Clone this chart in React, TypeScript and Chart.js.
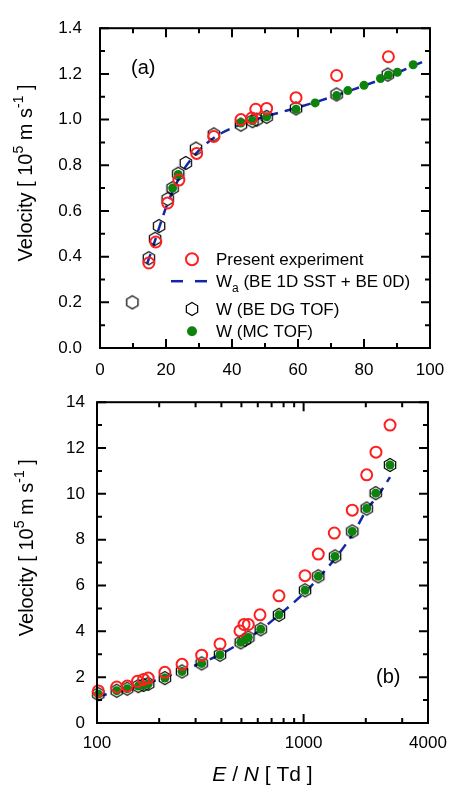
import React, { useEffect, useRef } from 'react';
import { Chart, registerables } from 'chart.js';

Chart.register(...registerables);

const FONT = "'Liberation Sans', Arial, Helvetica, sans-serif";
const RED = '#ff1f1f';
const GREEN = '#0d820d';
const BLUE = '#1226a8';

// ---------- Panel (a) ----------
const aExpX = [14.8, 16.9, 20.5, 23.9, 29.3, 34.5, 42.7, 46.0, 47.2, 50.5, 59.4, 71.7, 87.4];
const aExpY = [0.372, 0.464, 0.635, 0.735, 0.852, 0.926, 1.0, 1.007, 1.045, 1.049, 1.096, 1.193, 1.275];
const aDgX = [9.8, 14.8, 16.7, 17.9, 20.5, 22.0, 23.7, 26.0, 29.1, 34.5, 42.7, 46.2, 47.5, 50.5, 59.4, 71.7, 87.2];
const aDgY = [0.2, 0.393, 0.478, 0.534, 0.652, 0.7, 0.763, 0.81, 0.873, 0.935, 0.978, 0.993, 1.0, 1.012, 1.049, 1.11, 1.197];
const aMcX = [22.0, 23.7, 42.7, 46.2, 50.5, 59.4, 65.2, 71.7, 75.1, 80.0, 85.0, 87.4, 90.1, 94.9];
const aMcY = [0.7, 0.76, 0.985, 0.995, 1.012, 1.045, 1.073, 1.105, 1.127, 1.15, 1.18, 1.195, 1.207, 1.24];
const aWaX = [14.3, 16, 18, 20, 22, 24, 26, 30, 35, 40, 45, 50, 55, 60, 65, 70, 75, 80, 85, 90, 95, 97.8];
const aWaY = [0.37, 0.44, 0.53, 0.615, 0.685, 0.745, 0.795, 0.865, 0.925, 0.963, 0.99, 1.013, 1.033, 1.053, 1.075, 1.098, 1.123, 1.148, 1.175, 1.205, 1.235, 1.253];

const aXTicks = [0, 20, 40, 60, 80, 100];
const aXLabels = ['0', '20', '40', '60', '80', '100'];
const aXMinor = [10, 30, 50, 70, 90];
const aYTicks = [0, 0.2, 0.4, 0.6, 0.8, 1.0, 1.2, 1.4];
const aYLabels = ['0.0', '0.2', '0.4', '0.6', '0.8', '1.0', '1.2', '1.4'];
const aYMinor = [0.1, 0.3, 0.5, 0.7, 0.9, 1.1, 1.3];

// ---------- Panel (b) ----------
const bExpX = [101.5, 124.6, 140, 157, 168, 177, 213, 258, 321, 394, 492, 515, 540, 615, 760, 1016, 1178, 1408, 1720, 2020, 2240, 2620];
const bExpY = [1.40, 1.57, 1.61, 1.82, 1.90, 1.96, 2.21, 2.56, 2.96, 3.45, 4.02, 4.30, 4.30, 4.72, 5.55, 6.43, 7.37, 8.29, 9.29, 10.83, 11.82, 13.0];
const bDgX = [101.5, 124.6, 140, 158.5, 168, 177, 213, 258, 321, 394, 496, 520, 540, 620, 760, 1016, 1178, 1420, 1720, 2020, 2234, 2620];
const bDgY = [1.26, 1.41, 1.50, 1.61, 1.66, 1.71, 1.96, 2.25, 2.60, 2.98, 3.52, 3.63, 3.73, 4.09, 4.72, 5.79, 6.40, 7.27, 8.36, 9.36, 10.03, 11.26];
const bMcX = [101.5, 124.6, 140, 158.5, 168, 177, 213, 258, 321, 394, 496, 520, 540, 620, 760, 1016, 1178, 1420, 1720, 2020, 2234, 2620];
const bMcY = [1.26, 1.41, 1.50, 1.61, 1.66, 1.71, 1.96, 2.25, 2.60, 2.98, 3.52, 3.63, 3.73, 4.09, 4.72, 5.79, 6.40, 7.27, 8.36, 9.36, 10.03, 11.26];
const bWaX = [100, 150, 200, 300, 400, 500, 600, 800, 1000, 1200, 1500, 1800, 2000, 2300, 2620];
const bWaY = [1.15, 1.55, 1.92, 2.52, 3.02, 3.52, 3.98, 4.88, 5.65, 6.40, 7.45, 8.50, 9.25, 9.95, 10.73];

const bXTicks = [100, 1000, 4000];
const bXLabels = ['100', '1000', '4000'];
const bXMinor = [200, 300, 400, 500, 600, 700, 800, 900, 2000, 3000];
const bYTicks = [0, 2, 4, 6, 8, 10, 12, 14];
const bYLabels = ['0', '2', '4', '6', '8', '10', '12', '14'];
const bYMinor = [1, 3, 5, 7, 9, 11, 13];

const zip = (xs: number[], ys: number[]) => xs.map((x, i) => ({ x, y: ys[i] }));

function makeHex(R: number): HTMLCanvasElement {
  const size = 16;
  const c = document.createElement('canvas');
  c.width = size;
  c.height = size;
  const ctx = c.getContext('2d')!;
  ctx.translate(size / 2, size / 2);
  ctx.beginPath();
  for (let k = 0; k < 6; k++) {
    const a = -Math.PI / 2 + (k * Math.PI) / 3;
    const px = R * Math.cos(a);
    const py = R * Math.sin(a);
    if (k === 0) ctx.moveTo(px, py);
    else ctx.lineTo(px, py);
  }
  ctx.closePath();
  ctx.strokeStyle = '#000';
  ctx.lineWidth = 1.25;
  ctx.stroke();
  return c;
}

type Seg = { t: string; size: number; italic?: boolean; dy?: number };

function drawSegs(ctx: CanvasRenderingContext2D, segs: Seg[], x: number, y: number, align: 'left' | 'center') {
  const fontOf = (s: Seg) => `${s.italic ? 'italic ' : ''}${s.size}px ${FONT}`;
  const widths = segs.map((s) => {
    ctx.font = fontOf(s);
    return ctx.measureText(s.t).width;
  });
  const total = widths.reduce((a, b) => a + b, 0);
  let cur = align === 'center' ? x - total / 2 : x;
  ctx.textAlign = 'left';
  ctx.textBaseline = 'alphabetic';
  segs.forEach((s, i) => {
    ctx.font = fontOf(s);
    ctx.fillText(s.t, cur, y + (s.dy || 0));
    cur += widths[i];
  });
}

function decor(id: string, xMajor: number[], xMinor: number[], yMajor: number[], yMinor: number[], extra: (ctx: CanvasRenderingContext2D, a: any) => void) {
  return {
    id,
    afterDraw(chart: any) {
      const { ctx, chartArea: a, scales } = chart;
      const xs = scales.x;
      const ys = scales.y;
      ctx.save();
      ctx.strokeStyle = '#000';
      ctx.lineWidth = 2;
      ctx.beginPath();
      const vt = (vals: number[], L: number) =>
        vals.forEach((v) => {
          const p = xs.getPixelForValue(v);
          ctx.moveTo(p, a.bottom);
          ctx.lineTo(p, a.bottom - L);
          ctx.moveTo(p, a.top);
          ctx.lineTo(p, a.top + L);
        });
      const ht = (vals: number[], L: number) =>
        vals.forEach((v) => {
          const p = ys.getPixelForValue(v);
          ctx.moveTo(a.left, p);
          ctx.lineTo(a.left + L, p);
          ctx.moveTo(a.right, p);
          ctx.lineTo(a.right - L, p);
        });
      vt(xMajor, 9);
      vt(xMinor, 5);
      ht(yMajor, 9);
      ht(yMinor, 5);
      ctx.stroke();
      ctx.strokeRect(a.left, a.top, a.right - a.left, a.bottom - a.top);
      ctx.fillStyle = '#000';
      extra(ctx, a);
      ctx.restore();
    },
  };
}

const velTitle: Seg[] = [
  { t: 'Velocity [ 10', size: 20 },
  { t: '5', size: 14, dy: -9 },
  { t: ' m s', size: 20 },
  { t: '-1', size: 14, dy: -9 },
  { t: ' ]', size: 20 },
];

function drawYTitle(ctx: CanvasRenderingContext2D, bx: number, cy: number) {
  ctx.save();
  ctx.translate(bx, cy);
  ctx.rotate(-Math.PI / 2);
  ctx.fillStyle = '#000';
  drawSegs(ctx, velTitle, 0, 0, 'center');
  ctx.restore();
}

const tickFont = { family: FONT, size: 17 };

function makeScales(opts: {
  xType: string; xMin: number; xMax: number; xTicks: number[]; xLabels: string[];
  yMin: number; yMax: number; yTicks: number[]; yLabels: string[];
  yWidth: number; xHeight: number; yPad: number; xPad: number;
}) {
  return {
    x: {
      type: opts.xType,
      min: opts.xMin,
      max: opts.xMax,
      afterBuildTicks: (s: any) => { s.ticks = opts.xTicks.map((v) => ({ value: v })); },
      afterFit: (s: any) => { s.height = opts.xHeight; },
      grid: { display: false, drawTicks: false },
      border: { display: false },
      ticks: {
        font: tickFont, color: '#000', padding: opts.xPad, maxRotation: 0, minRotation: 0, autoSkip: false,
        callback: (_v: any, i: number) => opts.xLabels[i],
      },
    },
    y: {
      type: 'linear',
      min: opts.yMin,
      max: opts.yMax,
      afterBuildTicks: (s: any) => { s.ticks = opts.yTicks.map((v) => ({ value: v })); },
      afterFit: (s: any) => { s.width = opts.yWidth; },
      grid: { display: false, drawTicks: false },
      border: { display: false },
      ticks: {
        font: tickFont, color: '#000', padding: opts.yPad, autoSkip: false,
        callback: (_v: any, i: number) => opts.yLabels[i],
      },
    },
  };
}

function datasets(hex: HTMLCanvasElement, exp: any[], mc: any[], dg: any[], wa: any[]) {
  return [
    { label: 'Present experiment', data: exp, pointStyle: 'circle', pointRadius: 5.5, borderWidth: 2, borderColor: RED, backgroundColor: 'rgba(0,0,0,0)', order: 0, clip: false },
    { label: 'W (MC TOF)', data: mc, pointStyle: 'circle', pointRadius: 4.5, borderWidth: 0, borderColor: GREEN, backgroundColor: GREEN, order: 1, clip: false },
    { label: 'W (BE DG TOF)', data: dg, pointStyle: hex, pointRadius: 6, order: 2, clip: false },
    { label: 'Wa (BE 1D SST + BE 0D)', data: wa, showLine: true, pointRadius: 0, borderColor: BLUE, backgroundColor: BLUE, borderWidth: 2.5, borderDash: [10, 7], cubicInterpolationMode: 'monotone', fill: false, order: 3 },
  ];
}

function drawLegend(ctx: CanvasRenderingContext2D, a: any, hex: HTMLCanvasElement) {
  const sx = a.left + 92;
  const tx = a.left + 116;
  const rows = [a.top + 231, a.top + 253, a.top + 280.5, a.top + 303];
  ctx.beginPath();
  ctx.arc(sx, rows[0], 6, 0, Math.PI * 2);
  ctx.strokeStyle = RED;
  ctx.lineWidth = 2;
  ctx.stroke();
  ctx.fillStyle = '#000';
  drawSegs(ctx, [{ t: 'Present experiment', size: 17 }], tx, rows[0] + 6, 'left');
  ctx.save();
  ctx.beginPath();
  ctx.setLineDash([12, 12]);
  ctx.strokeStyle = BLUE;
  ctx.lineWidth = 2.5;
  ctx.moveTo(sx - 21, rows[1]);
  ctx.lineTo(sx + 16, rows[1]);
  ctx.stroke();
  ctx.restore();
  ctx.fillStyle = '#000';
  drawSegs(ctx, [
    { t: 'W', size: 17 },
    { t: 'a', size: 12, dy: 5 },
    { t: ' (BE 1D SST + BE 0D)', size: 17 },
  ], tx, rows[1] + 6, 'left');
  ctx.drawImage(hex, Math.round(sx - hex.width / 2), Math.round(rows[2] - hex.height / 2));
  drawSegs(ctx, [{ t: 'W (BE DG TOF)', size: 17 }], tx, rows[2] + 6, 'left');
  ctx.beginPath();
  ctx.arc(sx, rows[3], 5, 0, Math.PI * 2);
  ctx.fillStyle = GREEN;
  ctx.fill();
  ctx.fillStyle = '#000';
  drawSegs(ctx, [{ t: 'W (MC TOF)', size: 17 }], tx, rows[3] + 6, 'left');
}

export default function App() {
  const refA = useRef<HTMLCanvasElement>(null);
  const refB = useRef<HTMLCanvasElement>(null);

  useEffect(() => {
    const hex = makeHex(6.5);
    const cfgA: any = {
      type: 'scatter',
      data: { datasets: datasets(hex, zip(aExpX, aExpY), zip(aMcX, aMcY), zip(aDgX, aDgY), zip(aWaX, aWaY)) },
      options: {
        responsive: false,
        animation: false,
        devicePixelRatio: 1,
        events: [],
        layout: { padding: { top: 17, right: 27, left: 0, bottom: 0 } },
        plugins: { legend: { display: false }, tooltip: { enabled: false } },
        scales: makeScales({
          xType: 'linear', xMin: 0, xMax: 100, xTicks: aXTicks, xLabels: aXLabels,
          yMin: 0, yMax: 1.4, yTicks: aYTicks, yLabels: aYLabels,
          yWidth: 100, xHeight: 32, yPad: 18, xPad: 12,
        }),
      },
      plugins: [
        decor('decorA', aXTicks, aXMinor, aYTicks, aYMinor, (ctx, a) => {
          drawSegs(ctx, [{ t: '(a)', size: 20 }], a.left + 31, a.top + 45.5, 'left');
          drawYTitle(ctx, 32.3, a.top + 144.7);
          drawLegend(ctx, a, hex);
        }),
      ],
    };
    const cfgB: any = {
      type: 'scatter',
      data: { datasets: datasets(hex, zip(bExpX, bExpY), zip(bMcX, bMcY), zip(bDgX, bDgY), zip(bWaX, bWaY)) },
      options: {
        responsive: false,
        animation: false,
        devicePixelRatio: 1,
        events: [],
        layout: { padding: { top: 13, right: 29, left: 0, bottom: 0 } },
        plugins: { legend: { display: false }, tooltip: { enabled: false } },
        scales: makeScales({
          xType: 'logarithmic', xMin: 100, xMax: 4000, xTicks: bXTicks, xLabels: bXLabels,
          yMin: 0, yMax: 14, yTicks: bYTicks, yLabels: bYLabels,
          yWidth: 97, xHeight: 73, yPad: 12, xPad: 10,
        }),
      },
      plugins: [
        decor('decorB', bXTicks, bXMinor, bYTicks, bYMinor, (ctx, a) => {
          drawSegs(ctx, [{ t: '(b)', size: 20 }], a.right - 52, a.bottom - 40.5, 'left');
          drawYTitle(ctx, 33, a.top + 145.5);
          drawSegs(ctx, [
            { t: 'E', size: 21, italic: true },
            { t: ' / ', size: 21 },
            { t: 'N', size: 21, italic: true },
            { t: ' [ Td ]', size: 21 },
          ], (a.left + a.right) / 2, a.bottom + 58, 'center');
        }),
      ],
    };
    const ca = new Chart(refA.current!, cfgA);
    const cb = new Chart(refB.current!, cfgB);
    return () => {
      ca.destroy();
      cb.destroy();
    };
  }, []);

  return (
    <div style={{ position: 'absolute', left: 0, top: 0, width: 457, height: 796, background: '#fff' }}>
      <canvas ref={refA} width={457} height={380} style={{ position: 'absolute', left: 0, top: 0, width: 457, height: 380, display: 'block' }} />
      <canvas ref={refB} width={457} height={416} style={{ position: 'absolute', left: 0, top: 380, width: 457, height: 416, display: 'block' }} />
    </div>
  );
}
